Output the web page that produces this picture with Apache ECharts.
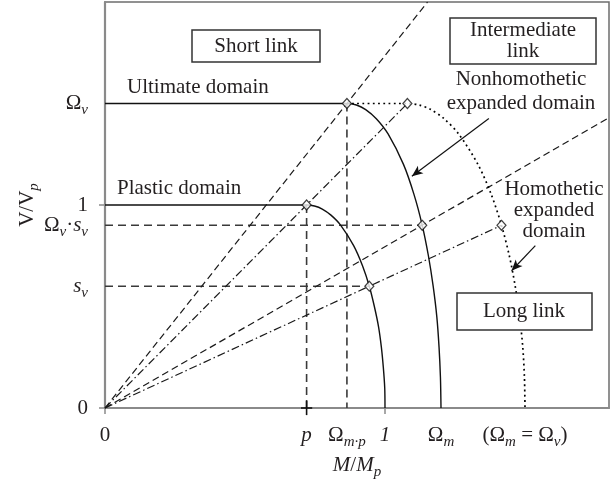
<!DOCTYPE html>
<html>
<head>
<meta charset="utf-8">
<script src="https://cdn.jsdelivr.net/npm/echarts@6/dist/echarts.min.js"></script>
<style>html,body{margin:0;padding:0;background:#fff;}#c{width:611px;height:485px;}</style>
</head>
<body>
<div id="c"></div>
<script>
// ---- Key values ----
const P = 0.72;          // p
const OMEGA_MP = 0.864;  // Ω_m·p
const OMEGA_M = 1.2;     // Ω_m
const OMEGA_V = 1.5;     // Ω_v
const S_V = 0.6;         // s_v
const OMEGA_VS = 0.9;    // Ω_v·s_v
const XMAX = 1.8, YMAX = 2.0;

const xTickValues = [0, 0.72, 0.864, 1, 1.2, 1.5];
const xTickLabels = ['{n|0}', '{i|p}', '{n|Ω}{s|m·p}', '{i|1}', '{n|Ω}{s|m}', '{n|(Ω}{s|m}{n| = Ω}{s|v}{n|)}'];
const yTickValues = [0, 0.6, 0.9, 1, 1.5];
const yTickLabels = ['{n|0}', '{i|s}{s|v}', '{n|Ω}{s|v}{n|·}{i|s}{s|v}', '{n|1}', '{n|Ω}{s|v}'];

// Plastic domain (horizontal part + interaction curve)
const plasticDomain = [[0,1],[0.72,1],[0.748,0.995],[0.776,0.98],[0.807,0.95],[0.842,0.9],[0.888,0.8],[0.920,0.7],[0.944,0.6],[0.962,0.5],[0.977,0.4],[0.987,0.3],[0.994,0.2],[0.999,0.1],[1.0,0]];
// Ultimate domain
const ultimateDomain = [[0,1.5],[0.864,1.5],[0.898,1.4925],[0.931,1.47],[0.969,1.425],[1.011,1.35],[1.066,1.2],[1.104,1.05],[1.133,0.9],[1.155,0.75],[1.172,0.6],[1.185,0.45],[1.193,0.3],[1.198,0.15],[1.2,0]];
// Homothetic expanded domain (dotted)
const homotheticDomain = [[0.864,1.5],[1.08,1.5],[1.122,1.4925],[1.164,1.47],[1.211,1.425],[1.263,1.35],[1.332,1.2],[1.380,1.05],[1.416,0.9],[1.444,0.75],[1.465,0.6],[1.481,0.45],[1.492,0.3],[1.498,0.15],[1.5,0]];
// Rays from origin
const rayDashSteep = [[0,0],[1.152,2.0]];
const rayDashDotSteep = [[0,0],[1.08,1.5]];
const rayDashShallow = [[0,0],[1.8,1.43]];
const rayDashDotShallow = [[0,0],[1.416,0.9]];
// Guide lines
const guideVp = [[0.72,1],[0.72,0]];
const guideVmp = [[0.864,1.5],[0.864,0]];
const guideHvs = [[0,0.9],[1.133,0.9]];
const guideHs = [[0,0.6],[0.944,0.6]];
// Marker points
const diamonds = [[0.72,1],[0.864,1.5],[1.08,1.5],[0.944,0.6],[1.133,0.9],[1.416,0.9]];
// Arrows [from, to]
const arrows = [[[1.371,1.426],[1.096,1.142]], [[1.537,0.80],[1.452,0.676]]];
// Cross mark at p
const crossV = [[0.72,-0.035],[0.72,0.035]];
const crossH = [[0.7,0],[0.74,0]];

const FONT = 'Liberation Serif';
const INK = '#231f20';
const rich = {
  n: {fontFamily: FONT, fontSize: 21, color: INK, lineHeight: 21, verticalAlign: 'top'},
  i: {fontFamily: FONT, fontSize: 21, color: INK, fontStyle: 'italic', lineHeight: 21, verticalAlign: 'top'},
  s: {fontFamily: FONT, fontSize: 15, color: INK, fontStyle: 'italic', lineHeight: 15, padding: [10,0,0,0], verticalAlign: 'top'}
};

function lineSeries(data, type, opts) {
  return Object.assign({
    type: 'line', data: data, symbol: 'none', silent: true, clip: false,
    lineStyle: {color: '#1a1a1a', width: 1.2, type: type}
  }, opts || {});
}
const DASH = [7,4];
const DASHDOT = [8,3,1.5,3];
const DOT = [1.8,3.4];
const GUIDE = {color: '#3a3a3a', width: 1.6, type: [8,5]};
const SOLID = {color: '#111', width: 1.4, type: 'solid'};
const DOTTED = {color: '#000', width: 1.7, type: DOT};
const TXT = '21px "Liberation Serif"';

const chart = echarts.init(document.getElementById('c'), null, {renderer: 'canvas'});
chart.setOption({
  animation: false,
  backgroundColor: '#fff',
  grid: {left: 105, right: 2, top: 2, bottom: 77, show: true, borderColor: '#6d6d6d', borderWidth: 1.5, backgroundColor: 'transparent'},
  xAxis: {
    type: 'value', min: 0, max: XMAX,
    splitLine: {show: false},
    axisLine: {lineStyle: {color: '#8a8a8a', width: 2.2}},
    axisTick: {customValues: [0, 1], length: 6, lineStyle: {color: '#8a8a8a', width: 1.5}},
    axisLabel: {customValues: xTickValues, margin: 17, rich: rich,
      formatter: function (v) { const k = xTickValues.indexOf(v); return k >= 0 ? xTickLabels[k] : ''; }},
    name: '{i|M}{n|/}{i|M}{s|p}', nameLocation: 'middle', nameGap: 47, nameMoveOverlap: false,
    nameTextStyle: {rich: rich}
  },
  yAxis: {
    type: 'value', min: 0, max: YMAX,
    splitLine: {show: false},
    axisLine: {lineStyle: {color: '#8a8a8a', width: 2.2}},
    axisTick: {customValues: [0, 1], length: 6, lineStyle: {color: '#8a8a8a', width: 1.5}},
    axisLabel: {customValues: yTickValues, margin: 17, rich: rich,
      formatter: function (v) { const k = yTickValues.indexOf(v); return k >= 0 ? yTickLabels[k] : ''; }},
    name: '{n|V/V}{s|p}', nameLocation: 'middle', nameGap: 67, nameRotate: 90, nameMoveOverlap: false,
    nameTextStyle: {rich: rich}
  },
  series: [
    lineSeries(guideVp, null, {lineStyle: GUIDE}),
    lineSeries(guideVmp, null, {lineStyle: GUIDE}),
    lineSeries(guideHvs, null, {lineStyle: GUIDE}),
    lineSeries(guideHs, null, {lineStyle: GUIDE}),
    lineSeries(rayDashSteep, DASH),
    lineSeries(rayDashDotSteep, DASHDOT),
    lineSeries(rayDashShallow, DASH),
    lineSeries(rayDashDotShallow, DASHDOT),
    lineSeries(plasticDomain, null, {smooth: 0.3, lineStyle: SOLID}),
    lineSeries(ultimateDomain, null, {smooth: 0.3, lineStyle: SOLID}),
    lineSeries(homotheticDomain, null, {smooth: 0.3, lineStyle: DOTTED}),
    lineSeries(crossV, null, {lineStyle: {color: '#111', width: 1.6}}),
    lineSeries(crossH, null, {lineStyle: {color: '#111', width: 1.6}}),
    {
      type: 'scatter', data: diamonds, symbol: 'diamond', symbolSize: [9, 10], silent: true,
      itemStyle: {color: '#fff', borderColor: '#111', borderWidth: 1.2}, z: 5
    },
    {
      type: 'line', data: [], silent: true,
      markLine: {
        silent: true, symbol: ['none', 'arrow'], symbolSize: [7, 11],
        label: {show: false},
        lineStyle: {color: '#111', width: 1.2, type: 'solid'},
        data: arrows.map(a => [{coord: a[0]}, {coord: a[1]}])
      }
    }
  ],
  graphic: [
    {type: 'rect', shape: {x: 192, y: 30, width: 128, height: 32}, style: {fill: '#fff', stroke: '#333', lineWidth: 1.5}, z: 100},
    {type: 'text', x: 256, y: 46, style: {text: 'Short link', font: TXT, fill: INK, textAlign: 'center', textVerticalAlign: 'middle'}, z: 101},
    {type: 'rect', shape: {x: 450, y: 18, width: 146, height: 46}, style: {fill: '#fff', stroke: '#333', lineWidth: 1.5}, z: 100},
    {type: 'text', x: 523, y: 41, style: {text: 'Intermediate\nlink', font: TXT, lineHeight: 21, fill: INK, textAlign: 'center', textVerticalAlign: 'middle'}, z: 101},
    {type: 'rect', shape: {x: 457, y: 293, width: 135, height: 37}, style: {fill: '#fff', stroke: '#333', lineWidth: 1.5}, z: 100},
    {type: 'text', x: 524, y: 311, style: {text: 'Long link', font: TXT, fill: INK, textAlign: 'center', textVerticalAlign: 'middle'}, z: 101},
    {type: 'text', x: 127, y: 87, style: {text: 'Ultimate domain', font: TXT, fill: INK, textAlign: 'left', textVerticalAlign: 'middle'}, z: 101},
    {type: 'text', x: 117, y: 188, style: {text: 'Plastic domain', font: TXT, fill: INK, textAlign: 'left', textVerticalAlign: 'middle'}, z: 101},
    {type: 'text', x: 521, y: 91, style: {text: 'Nonhomothetic\nexpanded domain', font: TXT, lineHeight: 24, fill: INK, textAlign: 'center', textVerticalAlign: 'middle'}, z: 101},
    {type: 'text', x: 554, y: 210, style: {text: 'Homothetic\nexpanded\ndomain', font: TXT, lineHeight: 21, fill: INK, textAlign: 'center', textVerticalAlign: 'middle'}, z: 101}
  ]
});
</script>
</body>
</html>
